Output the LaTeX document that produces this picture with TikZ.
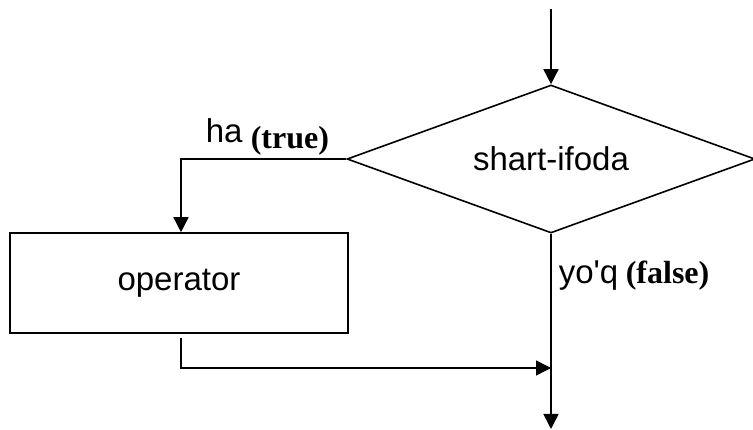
\documentclass[tikz,border=0pt]{standalone}
\usepackage{fontspec}
\setmainfont{Liberation Serif}
\newfontfamily\labelsans{Liberation Sans}
\usetikzlibrary{shapes.geometric,arrows.meta}
\begin{document}
\begin{tikzpicture}[x=1pt,y=-1pt,
  line width=1.6pt,
  flow/.style={-{Triangle[width=15pt,length=15pt]}},
  sansfont/.style={font=\labelsans\fontsize{33}{35}\selectfont},
  decision/.style={draw,diamond,shape aspect=2.76,inner sep=0pt,minimum width=408pt,minimum height=148pt,sansfont},
  process/.style={draw,rectangle,inner sep=0pt,minimum width=338pt,minimum height=100pt,sansfont},
  sanslbl/.style={inner sep=0pt,anchor=base west,sansfont},
  seriflbl/.style={inner sep=0pt,anchor=base west,font=\bfseries\fontsize{32}{34}\selectfont}]
\useasboundingbox (0,0) rectangle (753,430);
\coordinate (start) at (551,9);
\node[decision] (cond) at (551,159) {shart-ifoda};
\node[process] (op) at (179,283) {operator};
\coordinate (tbend) at (181,159);
\coordinate (obend) at (181,368);
\coordinate (join) at (551,368);
\coordinate (finish) at (551,429);
% incoming flow
\draw[flow] (start) -- (cond.north);
% true branch
\draw[flow] (cond.west) -- (tbend) -- (op.north -| tbend);
\draw[flow] ([yshift=-4pt]op.south -| obend) -- (obend) -- (join);
% false branch
\draw[flow] (cond.south) -- (finish);
% branch labels
\node[sanslbl] (ha) at (205,143) {ha};
\node[seriflbl] (tr) at (250,149) {(true)};
\node[sanslbl] (yoq) at (558,284) {yo'q};
\node[seriflbl] (fl) at (625,284) {(false)};
\end{tikzpicture}
\end{document}
